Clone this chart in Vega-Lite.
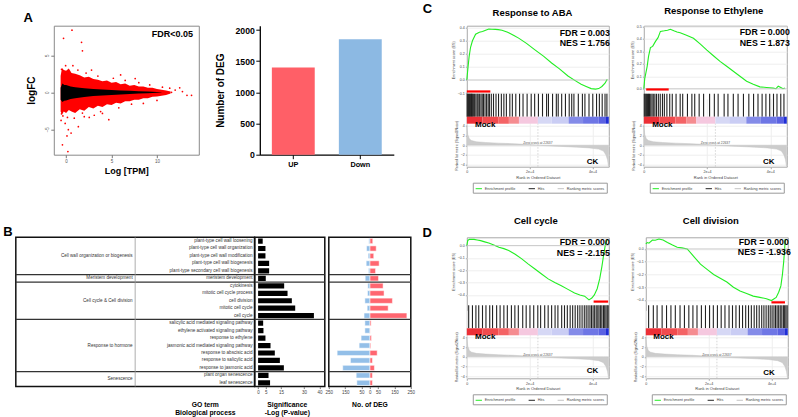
{
"$schema": "https://vega.github.io/schema/vega-lite/v6.json",
"background": "white",
"padding": {"left": 1.8, "top": 2.7, "right": 0, "bottom": 0},
"config": {"font": "Liberation Sans", "view": {"stroke": null}},
"spacing": 20.6,
"resolve": {"scale": {"color": "independent", "fill": "independent", "stroke": "independent"}, "legend": {"color": "independent", "fill": "independent", "stroke": "independent"}},
"datasets": {
"terms": [
{"order":1,"category":"Cell wall organization or biogenesis","term":"plant-type cell wall loosening","sig":3.0,"up":18,"down":6},
{"order":2,"category":"Cell wall organization or biogenesis","term":"plant-type cell wall organization","sig":4.8,"up":39,"down":20},
{"order":3,"category":"Cell wall organization or biogenesis","term":"plant-type cell wall modification","sig":4.8,"up":24,"down":10},
{"order":4,"category":"Cell wall organization or biogenesis","term":"plant-type cell wall biogenesis","sig":7.2,"up":57,"down":22},
{"order":5,"category":"Cell wall organization or biogenesis","term":"plant-type secondary cell wall biogenesis","sig":7.2,"up":35,"down":8},
{"order":6,"category":"Meristem development","term":"meristem development","sig":5.0,"up":53,"down":28},
{"order":7,"category":"Cell cycle & Cell division","term":"cytokinesis","sig":17.0,"up":81,"down":12},
{"order":8,"category":"Cell cycle & Cell division","term":"mitotic cell cycle process","sig":19.2,"up":87,"down":14},
{"order":9,"category":"Cell cycle & Cell division","term":"cell division","sig":22.0,"up":138,"down":30},
{"order":10,"category":"Cell cycle & Cell division","term":"mitotic cell cycle","sig":24.2,"up":112,"down":16},
{"order":11,"category":"Cell cycle & Cell division","term":"cell cycle","sig":36.4,"up":226,"down":35},
{"order":12,"category":"Response to hormone","term":"salicylic acid mediated signaling pathway","sig":3.3,"up":8,"down":30},
{"order":13,"category":"Response to hormone","term":"ethylene activated signaling pathway","sig":3.5,"up":2,"down":30},
{"order":14,"category":"Response to hormone","term":"response to ethylene","sig":4.8,"up":10,"down":53},
{"order":15,"category":"Response to hormone","term":"jasmonic acid mediated signaling pathway","sig":8.1,"up":6,"down":65},
{"order":16,"category":"Response to hormone","term":"response to abscisic acid","sig":10.9,"up":45,"down":199},
{"order":17,"category":"Response to hormone","term":"response to salicylic acid","sig":14.2,"up":16,"down":118},
{"order":18,"category":"Response to hormone","term":"response to jasmonic acid","sig":16.8,"up":28,"down":165},
{"order":19,"category":"Senescence","term":"plant organ senescence","sig":6.8,"up":16,"down":83},
{"order":20,"category":"Senescence","term":"leaf senescence","sig":7.8,"up":16,"down":79}
],
"ma_red": [
{"x":-0.6,"hi":2.2,"lo":-2.6},{"x":-0.45,"hi":3.3,"lo":-3.0},{"x":-0.25,"hi":3.0,"lo":-2.6},{"x":0,"hi":2.9,"lo":-2.8},{"x":0.3,"hi":3.2,"lo":-2.4},{"x":0.6,"hi":2.6,"lo":-2.6},{"x":1.0,"hi":2.5,"lo":-2.8},{"x":1.5,"hi":2.3,"lo":-2.3},{"x":2.0,"hi":2.0,"lo":-2.5},{"x":2.5,"hi":2.1,"lo":-2.0},{"x":3.0,"hi":1.8,"lo":-2.2},{"x":3.5,"hi":1.7,"lo":-1.8},{"x":4.0,"hi":1.5,"lo":-2.0},{"x":4.5,"hi":1.6,"lo":-1.6},{"x":5.0,"hi":1.3,"lo":-1.7},{"x":5.5,"hi":1.4,"lo":-1.4},{"x":6.0,"hi":1.1,"lo":-1.5},{"x":6.5,"hi":1.2,"lo":-1.2},{"x":7.0,"hi":0.9,"lo":-1.2},{"x":7.5,"hi":1.0,"lo":-1.0},{"x":8.0,"hi":0.8,"lo":-1.0},{"x":8.5,"hi":0.8,"lo":-0.8},{"x":9.0,"hi":0.6,"lo":-0.8},{"x":9.5,"hi":0.6,"lo":-0.6},{"x":10.0,"hi":0.45,"lo":-0.55},{"x":10.5,"hi":0.35,"lo":-0.45},{"x":11.0,"hi":0.25,"lo":-0.35},{"x":11.5,"hi":0.1,"lo":-0.15}
],
"ma_black": [
{"x":-0.6,"hi":0.6,"lo":-1.0},{"x":-0.4,"hi":1.2,"lo":-1.3},{"x":-0.2,"hi":1.0,"lo":-1.15},{"x":0,"hi":1.0,"lo":-1.1},{"x":0.5,"hi":0.8,"lo":-0.9},{"x":1,"hi":0.7,"lo":-0.8},{"x":2,"hi":0.55,"lo":-0.65},{"x":3,"hi":0.45,"lo":-0.5},{"x":4,"hi":0.38,"lo":-0.42},{"x":5,"hi":0.3,"lo":-0.35},{"x":6,"hi":0.25,"lo":-0.28},{"x":7,"hi":0.2,"lo":-0.22},{"x":8,"hi":0.15,"lo":-0.17},{"x":9,"hi":0.1,"lo":-0.12},{"x":10,"hi":0.05,"lo":-0.06},{"x":10.5,"hi":0.02,"lo":-0.02}
],
"ma_pts": [
{"x":0.65,"y":8.4},{"x":-0.28,"y":7.3},{"x":1.7,"y":6.75},{"x":1.8,"y":5.6},{"x":2.8,"y":3.0},{"x":-0.35,"y":-3.2},{"x":-0.55,"y":-3.8},{"x":-0.1,"y":-4.2},{"x":0.25,"y":-5.05},{"x":0.55,"y":-5.5},{"x":0.1,"y":-5.9},{"x":-0.4,"y":-7.1},{"x":0.2,"y":-8.0},{"x":1.35,"y":-4.65},{"x":2.55,"y":-3.4},{"x":4.7,"y":-3.7},{"x":4.0,"y":-2.85},{"x":0.15,"y":-3.4},{"x":6.0,"y":2.35},{"x":6.5,"y":1.6},{"x":7.6,"y":1.85},{"x":10.6,"y":0.7},{"x":11.4,"y":0.55},{"x":12.5,"y":0.6},{"x":12.8,"y":0.1},{"x":13.3,"y":-0.4},{"x":13.8,"y":-0.4},{"x":11.6,"y":0.0},{"x":10.0,"y":-1.1},{"x":8.5,"y":-1.5},{"x":1.8,"y":-2.8},{"x":0.9,"y":-3.5},{"x":3.1,"y":-3.1},{"x":0.75,"y":3.6},{"x":-0.05,"y":3.6},{"x":1.3,"y":3.0},{"x":2.2,"y":2.6},{"x":3.5,"y":2.2},{"x":5.2,"y":1.9},{"x":5.8,"y":-2.1},{"x":7.2,"y":-1.6},{"x":9.2,"y":1.0},{"x":8.0,"y":1.3},{"x":3.8,"y":-2.6},{"x":2.0,"y":-3.3},{"x":-0.5,"y":-2.9},{"x":-0.5,"y":3.1},{"x":12.0,"y":0.3}
],
"deg": [{"group":"UP","n":1400},{"group":"Down","n":1850}],
"es": [
{"set":"ABA","rank":0,"es":0},{"set":"ABA","rank":400,"es":0.1},{"set":"ABA","rank":750,"es":0.18},{"set":"ABA","rank":1200,"es":0.25},{"set":"ABA","rank":1800,"es":0.3},{"set":"ABA","rank":2800,"es":0.35},{"set":"ABA","rank":4000,"es":0.365},{"set":"ABA","rank":5000,"es":0.37},{"set":"ABA","rank":6000,"es":0.38},{"set":"ABA","rank":7000,"es":0.39},{"set":"ABA","rank":8000,"es":0.388},{"set":"ABA","rank":9100,"es":0.387},{"set":"ABA","rank":10000,"es":0.385},{"set":"ABA","rank":11200,"es":0.38},{"set":"ABA","rank":13000,"es":0.365},{"set":"ABA","rank":15000,"es":0.34},{"set":"ABA","rank":16500,"es":0.32},{"set":"ABA","rank":19000,"es":0.28},{"set":"ABA","rank":21700,"es":0.23},{"set":"ABA","rank":24500,"es":0.18},{"set":"ABA","rank":27000,"es":0.13},{"set":"ABA","rank":29500,"es":0.085},{"set":"ABA","rank":32200,"es":0.03},{"set":"ABA","rank":34500,"es":-0.005},{"set":"ABA","rank":36400,"es":-0.033},{"set":"ABA","rank":38000,"es":-0.05},{"set":"ABA","rank":39600,"es":-0.066},{"set":"ABA","rank":41000,"es":-0.07},{"set":"ABA","rank":42000,"es":-0.066},{"set":"ABA","rank":43000,"es":-0.05},{"set":"ABA","rank":44000,"es":-0.025},{"set":"ABA","rank":44700,"es":0.005},
{"set":"ETH","rank":0,"es":0},{"set":"ETH","rank":300,"es":0.08},{"set":"ETH","rank":1070,"es":0.18},{"set":"ETH","rank":1500,"es":0.26},{"set":"ETH","rank":2100,"es":0.33},{"set":"ETH","rank":2800,"es":0.34},{"set":"ETH","rank":3700,"es":0.38},{"set":"ETH","rank":4500,"es":0.41},{"set":"ETH","rank":5250,"es":0.46},{"set":"ETH","rank":6500,"es":0.465},{"set":"ETH","rank":7500,"es":0.47},{"set":"ETH","rank":8400,"es":0.477},{"set":"ETH","rank":9500,"es":0.465},{"set":"ETH","rank":10500,"es":0.455},{"set":"ETH","rank":11500,"es":0.45},{"set":"ETH","rank":13500,"es":0.43},{"set":"ETH","rank":15700,"es":0.405},{"set":"ETH","rank":17800,"es":0.36},{"set":"ETH","rank":19950,"es":0.31},{"set":"ETH","rank":22000,"es":0.265},{"set":"ETH","rank":24100,"es":0.22},{"set":"ETH","rank":26200,"es":0.18},{"set":"ETH","rank":28300,"es":0.14},{"set":"ETH","rank":30400,"es":0.1},{"set":"ETH","rank":32500,"es":0.06},{"set":"ETH","rank":34600,"es":0.035},{"set":"ETH","rank":36700,"es":0.015},{"set":"ETH","rank":38800,"es":0.01},{"set":"ETH","rank":40900,"es":0.005},{"set":"ETH","rank":41800,"es":0.0},{"set":"ETH","rank":42500,"es":0.02},{"set":"ETH","rank":43300,"es":0.01},{"set":"ETH","rank":44000,"es":0.0},{"set":"ETH","rank":44600,"es":0.005},
{"set":"CC","rank":0,"es":0.0},{"set":"CC","rank":300,"es":0.04},{"set":"CC","rank":800,"es":0.05},{"set":"CC","rank":2300,"es":0.05},{"set":"CC","rank":3300,"es":0.045},{"set":"CC","rank":4400,"es":0.04},{"set":"CC","rank":5700,"es":0.03},{"set":"CC","rank":7000,"es":0.02},{"set":"CC","rank":8600,"es":0.005},{"set":"CC","rank":10200,"es":-0.013},{"set":"CC","rank":11800,"es":-0.025},{"set":"CC","rank":13350,"es":-0.04},{"set":"CC","rank":15400,"es":-0.07},{"set":"CC","rank":17500,"es":-0.108},{"set":"CC","rank":19600,"es":-0.15},{"set":"CC","rank":21700,"es":-0.19},{"set":"CC","rank":23800,"es":-0.23},{"set":"CC","rank":25900,"es":-0.27},{"set":"CC","rank":28000,"es":-0.3},{"set":"CC","rank":30100,"es":-0.325},{"set":"CC","rank":32200,"es":-0.355},{"set":"CC","rank":34300,"es":-0.384},{"set":"CC","rank":36000,"es":-0.4},{"set":"CC","rank":37500,"es":-0.41},{"set":"CC","rank":38900,"es":-0.44},{"set":"CC","rank":39800,"es":-0.425},{"set":"CC","rank":40600,"es":-0.4},{"set":"CC","rank":41500,"es":-0.35},{"set":"CC","rank":42300,"es":-0.27},{"set":"CC","rank":43000,"es":-0.17},{"set":"CC","rank":43600,"es":-0.07},{"set":"CC","rank":44200,"es":0.02},{"set":"CC","rank":44800,"es":0.05},
{"set":"CD","rank":0,"es":0.04},{"set":"CD","rank":500,"es":0.05},{"set":"CD","rank":1000,"es":0.045},{"set":"CD","rank":2100,"es":0.07},{"set":"CD","rank":3000,"es":0.068},{"set":"CD","rank":4200,"es":0.078},{"set":"CD","rank":5500,"es":0.07},{"set":"CD","rank":6900,"es":0.05},{"set":"CD","rank":8500,"es":0.03},{"set":"CD","rank":10000,"es":0.013},{"set":"CD","rank":11500,"es":0.008},{"set":"CD","rank":13200,"es":0.0},{"set":"CD","rank":15300,"es":-0.06},{"set":"CD","rank":17400,"es":-0.12},{"set":"CD","rank":19500,"es":-0.16},{"set":"CD","rank":21600,"es":-0.2},{"set":"CD","rank":23700,"es":-0.23},{"set":"CD","rank":25800,"es":-0.26},{"set":"CD","rank":27900,"es":-0.3},{"set":"CD","rank":30000,"es":-0.33},{"set":"CD","rank":32100,"es":-0.35},{"set":"CD","rank":34200,"es":-0.37},{"set":"CD","rank":36300,"es":-0.38},{"set":"CD","rank":38400,"es":-0.39},{"set":"CD","rank":40000,"es":-0.405},{"set":"CD","rank":41500,"es":-0.38},{"set":"CD","rank":42300,"es":-0.34},{"set":"CD","rank":43000,"es":-0.29},{"set":"CD","rank":43500,"es":-0.2},{"set":"CD","rank":43900,"es":-0.1},{"set":"CD","rank":44200,"es":0.0},{"set":"CD","rank":44400,"es":0.078}
],
"hits": [
{"set":"ABA","rank":100},{"set":"ABA","rank":300},{"set":"ABA","rank":500},{"set":"ABA","rank":700},{"set":"ABA","rank":900},{"set":"ABA","rank":1100},{"set":"ABA","rank":1300},{"set":"ABA","rank":1500},{"set":"ABA","rank":1700},{"set":"ABA","rank":1900},{"set":"ABA","rank":2200},{"set":"ABA","rank":2500},{"set":"ABA","rank":2900},{"set":"ABA","rank":3300},{"set":"ABA","rank":3600},{"set":"ABA","rank":4000},{"set":"ABA","rank":4500},{"set":"ABA","rank":4900},{"set":"ABA","rank":5300},{"set":"ABA","rank":5800},{"set":"ABA","rank":6300},{"set":"ABA","rank":6800},{"set":"ABA","rank":7200},{"set":"ABA","rank":7800},{"set":"ABA","rank":8500},{"set":"ABA","rank":9300},{"set":"ABA","rank":10100},{"set":"ABA","rank":11000},{"set":"ABA","rank":11800},{"set":"ABA","rank":12600},{"set":"ABA","rank":13700},{"set":"ABA","rank":14500},{"set":"ABA","rank":15600},{"set":"ABA","rank":16800},{"set":"ABA","rank":17900},{"set":"ABA","rank":19200},{"set":"ABA","rank":20500},{"set":"ABA","rank":21600},{"set":"ABA","rank":22800},{"set":"ABA","rank":24100},{"set":"ABA","rank":25400},{"set":"ABA","rank":26000},{"set":"ABA","rank":27300},{"set":"ABA","rank":28500},{"set":"ABA","rank":29100},{"set":"ABA","rank":30200},{"set":"ABA","rank":31400},{"set":"ABA","rank":32600},{"set":"ABA","rank":33400},{"set":"ABA","rank":34100},{"set":"ABA","rank":35500},{"set":"ABA","rank":36800},{"set":"ABA","rank":37600},{"set":"ABA","rank":38900},{"set":"ABA","rank":40100},{"set":"ABA","rank":41300},{"set":"ABA","rank":42200},{"set":"ABA","rank":43100},{"set":"ABA","rank":44000},{"set":"ABA","rank":44600},
{"set":"ETH","rank":150},{"set":"ETH","rank":400},{"set":"ETH","rank":650},{"set":"ETH","rank":900},{"set":"ETH","rank":1200},{"set":"ETH","rank":1500},{"set":"ETH","rank":1800},{"set":"ETH","rank":2200},{"set":"ETH","rank":2600},{"set":"ETH","rank":3000},{"set":"ETH","rank":3500},{"set":"ETH","rank":4000},{"set":"ETH","rank":4600},{"set":"ETH","rank":5200},{"set":"ETH","rank":5900},{"set":"ETH","rank":6500},{"set":"ETH","rank":7300},{"set":"ETH","rank":8200},{"set":"ETH","rank":9000},{"set":"ETH","rank":10200},{"set":"ETH","rank":11500},{"set":"ETH","rank":12300},{"set":"ETH","rank":13800},{"set":"ETH","rank":15200},{"set":"ETH","rank":16100},{"set":"ETH","rank":17500},{"set":"ETH","rank":18900},{"set":"ETH","rank":20800},{"set":"ETH","rank":22300},{"set":"ETH","rank":23500},{"set":"ETH","rank":25400},{"set":"ETH","rank":26600},{"set":"ETH","rank":28300},{"set":"ETH","rank":29800},{"set":"ETH","rank":31500},{"set":"ETH","rank":33200},{"set":"ETH","rank":34700},{"set":"ETH","rank":36100},{"set":"ETH","rank":37400},{"set":"ETH","rank":38600},{"set":"ETH","rank":39800},{"set":"ETH","rank":41000},{"set":"ETH","rank":42100},{"set":"ETH","rank":43300},{"set":"ETH","rank":44300},
{"set":"CC","rank":600},{"set":"CC","rank":1800},{"set":"CC","rank":2900},{"set":"CC","rank":3800},{"set":"CC","rank":5000},{"set":"CC","rank":6100},{"set":"CC","rank":7300},{"set":"CC","rank":8200},{"set":"CC","rank":9500},{"set":"CC","rank":10600},{"set":"CC","rank":11800},{"set":"CC","rank":12900},{"set":"CC","rank":14200},{"set":"CC","rank":15300},{"set":"CC","rank":16400},{"set":"CC","rank":17800},{"set":"CC","rank":18900},{"set":"CC","rank":20100},{"set":"CC","rank":21300},{"set":"CC","rank":22600},{"set":"CC","rank":23500},{"set":"CC","rank":24800},{"set":"CC","rank":25900},{"set":"CC","rank":27000},{"set":"CC","rank":28100},{"set":"CC","rank":29000},{"set":"CC","rank":30200},{"set":"CC","rank":31100},{"set":"CC","rank":32000},{"set":"CC","rank":32900},{"set":"CC","rank":33700},{"set":"CC","rank":34500},{"set":"CC","rank":35300},{"set":"CC","rank":36000},{"set":"CC","rank":36700},{"set":"CC","rank":37400},{"set":"CC","rank":38000},{"set":"CC","rank":38600},{"set":"CC","rank":39200},{"set":"CC","rank":39700},{"set":"CC","rank":40200},{"set":"CC","rank":40700},{"set":"CC","rank":41200},{"set":"CC","rank":41700},{"set":"CC","rank":42100},{"set":"CC","rank":42600},{"set":"CC","rank":43000},{"set":"CC","rank":43500},{"set":"CC","rank":43900},{"set":"CC","rank":44300},{"set":"CC","rank":44700},{"set":"CC","rank":45000},
{"set":"CD","rank":900},{"set":"CD","rank":2400},{"set":"CD","rank":3600},{"set":"CD","rank":5200},{"set":"CD","rank":6600},{"set":"CD","rank":8000},{"set":"CD","rank":9400},{"set":"CD","rank":10900},{"set":"CD","rank":12300},{"set":"CD","rank":13700},{"set":"CD","rank":15000},{"set":"CD","rank":16300},{"set":"CD","rank":17700},{"set":"CD","rank":19000},{"set":"CD","rank":20300},{"set":"CD","rank":21500},{"set":"CD","rank":22800},{"set":"CD","rank":24000},{"set":"CD","rank":25200},{"set":"CD","rank":26500},{"set":"CD","rank":27600},{"set":"CD","rank":28700},{"set":"CD","rank":29800},{"set":"CD","rank":30800},{"set":"CD","rank":31800},{"set":"CD","rank":32700},{"set":"CD","rank":33600},{"set":"CD","rank":34500},{"set":"CD","rank":35300},{"set":"CD","rank":36100},{"set":"CD","rank":36900},{"set":"CD","rank":37600},{"set":"CD","rank":38300},{"set":"CD","rank":39000},{"set":"CD","rank":39600},{"set":"CD","rank":40200},{"set":"CD","rank":40800},{"set":"CD","rank":41300},{"set":"CD","rank":41800},{"set":"CD","rank":42300},{"set":"CD","rank":42800},{"set":"CD","rank":43300},{"set":"CD","rank":43800},{"set":"CD","rank":44200},{"set":"CD","rank":44600},{"set":"CD","rank":45000}
],
"cbar": [
{"start":0,"end":5000,"level":1.0},{"start":5000,"end":10000,"level":0.9},{"start":10000,"end":13400,"level":0.8},{"start":13400,"end":16600,"level":0.6},{"start":16600,"end":22637,"level":0.2},{"start":22637,"end":27000,"level":-0.2},{"start":27000,"end":32400,"level":-0.25},{"start":32400,"end":37000,"level":-0.55},{"start":37000,"end":42000,"level":-0.65},{"start":42000,"end":44300,"level":-0.75},{"start":44300,"end":45200,"level":-1.0}
],
"metric": [
{"rank":0,"metric":4.0},{"rank":300,"metric":2.2},{"rank":800,"metric":1.3},{"rank":1500,"metric":0.95},{"rank":3000,"metric":0.7},{"rank":6000,"metric":0.55},{"rank":10000,"metric":0.42},{"rank":15000,"metric":0.3},{"rank":20000,"metric":0.12},{"rank":22637,"metric":0},{"rank":25000,"metric":-0.1},{"rank":30000,"metric":-0.25},{"rank":35000,"metric":-0.4},{"rank":39000,"metric":-0.55},{"rank":42000,"metric":-0.8},{"rank":43500,"metric":-1.2},{"rank":44300,"metric":-2.0},{"rank":44800,"metric":-3.0},{"rank":45100,"metric":-4.3}
]
},
"vconcat": [
{
"spacing": 0,
"bounds": "flush",
"resolve": {"scale": {"color": "independent", "fill": "independent", "stroke": "independent"}, "legend": {"color": "independent", "fill": "independent", "stroke": "independent"}},
"hconcat": [
{"width": 37.7, "height": 1, "data": {"values": [{"a": 1}]}, "mark": {"type": "point", "opacity": 0}, "encoding": {}, "view": {"stroke": null}},
{
"width": 145, "height": 129,
"title": {"text": "A", "anchor": "start", "frame": "group", "fontSize": 13, "fontWeight": "bold", "baseline": "alphabetic", "dx": -30.3, "offset": 0, "dy": 9.1},
"view": {"stroke": "#8a8a8a"},
"layer": [
{"data": {"name": "ma_red"}, "mark": {"type": "area", "color": "#ff0000"},
 "encoding": {
  "x": {"field": "x", "type": "quantitative", "scale": {"domain": [-1.35, 14.6], "nice": false, "zero": false}, "axis": {"values": [0, 5, 10], "title": "Log [TPM]", "titleFontSize": 9, "titleFontWeight": "bold", "titlePadding": 3, "labelFontSize": 4.5, "labelColor": "#555", "tickSize": 3, "tickColor": "#777", "labelPadding": 1, "domain": false, "grid": false}},
  "y": {"field": "hi", "type": "quantitative", "scale": {"domain": [-8.43, 9.0], "nice": false, "zero": false}, "axis": {"values": [-5, 0, 5], "title": "logFC", "titleFontSize": 10, "titleFontWeight": "bold", "titlePadding": 8, "labelFontSize": 4.5, "labelColor": "#555", "labelAngle": -90, "tickSize": 3, "tickColor": "#777", "labelPadding": 1, "domain": false, "grid": false}},
  "y2": {"field": "lo"}
 }},
{"data": {"name": "ma_pts"}, "mark": {"type": "circle", "color": "#ff0000", "size": 3, "opacity": 1},
 "encoding": {"x": {"field": "x", "type": "quantitative"}, "y": {"field": "y", "type": "quantitative"}}},
{"data": {"name": "ma_black"}, "mark": {"type": "area", "color": "#000000"},
 "encoding": {"x": {"field": "x", "type": "quantitative"}, "y": {"field": "hi", "type": "quantitative"}, "y2": {"field": "lo"}}},
{"data": {"values": [{"a": 1}]}, "mark": {"type": "text", "text": "FDR<0.05", "fontSize": 9, "fontWeight": "bold", "align": "center", "baseline": "middle"},
 "encoding": {"x": {"datum": 11.7, "type": "quantitative"}, "y": {"datum": 7.9, "type": "quantitative"}}}
]
},
{"width": 61, "height": 1, "data": {"values": [{"a": 1}]}, "mark": {"type": "point", "opacity": 0}, "encoding": {}, "view": {"stroke": null}},
{
"width": 134, "height": 129,
"data": {"name": "deg"},
"mark": {"type": "bar"},
"encoding": {
 "x": {"field": "group", "type": "nominal", "sort": ["UP", "Down"], "scale": {"paddingInner": 0.36, "paddingOuter": 0.18}, "axis": {"title": null, "labelAngle": 0, "labelFontSize": 7.3, "labelFontWeight": "bold", "labelColor": "#000", "tickSize": 4, "tickColor": "#000", "domainColor": "#000", "domainWidth": 1.3, "labelPadding": 2}},
 "y": {"field": "n", "type": "quantitative", "scale": {"domain": [0, 2069], "nice": false}, "axis": {"values": [0, 500, 1000, 1500, 2000], "format": "d", "title": "Number of DEG", "titleFontSize": 10, "titleFontWeight": "bold", "titlePadding": 9, "labelFontSize": 8.7, "labelFontWeight": "bold", "labelColor": "#000", "tickSize": 4, "tickColor": "#000", "domainColor": "#000", "domainWidth": 1.3, "grid": false, "labelPadding": 1.5}},
 "color": {"field": "group", "type": "nominal", "scale": {"domain": ["UP", "Down"], "range": ["#ff5f67", "#8cb9e3"]}, "legend": null}
}
},
{"width": 72.3, "height": 1, "data": {"values": [{"a": 1}]}, "mark": {"type": "point", "opacity": 0}, "encoding": {}, "view": {"stroke": null},
 "title": {"text": "C", "anchor": "start", "frame": "group", "fontSize": 13, "fontWeight": "bold", "baseline": "alphabetic", "dx": 29, "offset": 1.2, "dy": 3.5}},
{
"width": 142, "height": 141,
"title": {"text": "Response to ABA", "frame": "group", "fontSize": 9.5, "fontWeight": "bold", "baseline": "alphabetic", "offset": 0, "dx": -5.3, "dy": -0.6},
"view": {"stroke": "#a8a8a8"},
"resolve": {"scale": {"y": "independent"}, "axis": {"y": "independent"}},
"layer": [
{"data": {"name": "es"}, "transform": [{"filter": "datum.set == 'ABA'"}], "mark": {"type": "line", "strokeWidth": 1.1},
 "encoding": {
  "x": {"field": "rank", "type": "quantitative", "scale": {"domain": [0, 45200], "nice": false, "zero": false}, "axis": {"values": [0, 5000, 10000, 15000, 20000, 25000, 30000, 35000, 40000, 45000], "format": ",", "title": "Rank in Ordered Dataset", "titleFontSize": 4, "titleFontWeight": "normal", "titleColor": "#444", "titlePadding": 2, "labelFontSize": 3.6, "labelColor": "#444", "labelFlush": false, "labelOverlap": false, "tickSize": 2, "tickColor": "#aaa", "labelPadding": 1, "domain": false, "grid": true, "gridColor": "#eeeeee"}},
  "y": {"field": "es", "type": "quantitative", "scale": {"domain": [-0.105, 0.415], "range": [68, 0], "nice": false, "zero": false}, "axis": {"orient": "left", "values": [-0.1, 0, 0.1, 0.2, 0.3, 0.4], "format": ".1f", "title": "Enrichment score (ES)", "titleFontSize": 3.8, "titleFontWeight": "normal", "titleColor": "#444", "titlePadding": 2, "labelFontSize": 3.6, "labelColor": "#444", "tickSize": 1.5, "tickColor": "#aaa", "labelPadding": 1, "domain": false, "grid": true, "gridColor": "#eeeeee"}},
  "stroke": {"datum": "Enrichment profile", "scale": {"domain": ["Enrichment profile", "Hits", "Ranking metric scores"], "range": ["#22ee22", "#222222", "#c4c4c4"]}, "legend": {"orient": "none", "legendX": 6, "legendY": 157, "direction": "horizontal", "title": null, "symbolType": "stroke", "symbolSize": 40, "symbolStrokeWidth": 1, "labelFontSize": 3.8, "labelColor": "#444", "labelOffset": 2, "strokeColor": "#999", "padding": 2, "columnPadding": 10, "fillColor": "#ffffff"}}
 }},
{"data": {"values": [{"a": 1}]}, "mark": {"type": "rule", "color": "#bbbbbb", "strokeWidth": 0.7},
 "encoding": {"y": {"datum": 0, "type": "quantitative", "scale": {"domain": [-0.105, 0.415], "range": [68, 0], "nice": false, "zero": false}, "axis": null}}},
{"data": {"values": [{"a": 1}]}, "mark": {"type": "rule", "color": "#ff0000", "strokeWidth": 2.2},
 "encoding": {"x": {"datum": 0, "type": "quantitative", "scale": {"domain": [0, 45200], "nice": false, "zero": false}}, "x2": {"datum": 7500}, "y": {"datum": -0.088, "type": "quantitative", "scale": {"domain": [-0.105, 0.415], "range": [68, 0], "nice": false, "zero": false}, "axis": null}}},
{"data": {"values": [{"a": 1}]}, "mark": {"type": "text", "text": "FDR = 0.003", "align": "right", "baseline": "middle", "fontSize": 8.8, "fontWeight": "bold", "dx": 1},
 "encoding": {"x": {"datum": 45200, "type": "quantitative", "scale": {"domain": [0, 45200], "nice": false, "zero": false}}, "y": {"datum": 0.362, "type": "quantitative", "scale": {"domain": [-0.105, 0.415], "range": [68, 0], "nice": false, "zero": false}, "axis": null}}},
{"data": {"values": [{"a": 1}]}, "mark": {"type": "text", "text": "NES = 1.756", "align": "right", "baseline": "middle", "fontSize": 8.8, "fontWeight": "bold", "dx": 1},
 "encoding": {"x": {"datum": 45200, "type": "quantitative", "scale": {"domain": [0, 45200], "nice": false, "zero": false}}, "y": {"datum": 0.279, "type": "quantitative", "scale": {"domain": [-0.105, 0.415], "range": [68, 0], "nice": false, "zero": false}, "axis": null}}},
{"data": {"name": "hits"}, "transform": [{"filter": "datum.set == 'ABA'"}], "mark": {"type": "rule", "strokeWidth": 1.1},
 "encoding": {"x": {"field": "rank", "type": "quantitative", "scale": {"domain": [0, 45200], "nice": false, "zero": false}}, "y": {"datum": 0, "type": "quantitative", "scale": {"domain": [0, 1], "range": [91, 68], "nice": false, "zero": false}, "axis": null}, "y2": {"datum": 1}, "stroke": {"datum": "Hits"}}},
{"data": {"name": "cbar"}, "mark": {"type": "rect"},
 "encoding": {"x": {"field": "start", "type": "quantitative", "scale": {"domain": [0, 45200], "nice": false, "zero": false}}, "x2": {"field": "end"}, "y": {"datum": 0, "type": "quantitative", "scale": {"domain": [0, 1], "range": [98, 91], "nice": false, "zero": false}, "axis": null}, "y2": {"datum": 1}, "fill": {"field": "level", "type": "quantitative", "scale": {"domain": [-1, -0.6, -0.2, 0.2, 0.6, 1], "range": ["#1f2ed6", "#7880e6", "#d6d8f5", "#f5c8df", "#f58c90", "#ec2f36"]}, "legend": null}}},
{"data": {"name": "metric"}, "mark": {"type": "area", "fill": "#cccccc", "strokeWidth": 0.5},
 "encoding": {"x": {"field": "rank", "type": "quantitative", "scale": {"domain": [0, 45200], "nice": false, "zero": false}}, "y": {"field": "metric", "type": "quantitative", "scale": {"domain": [-4.4, 4.4], "range": [141, 98], "nice": false, "zero": false}, "axis": {"orient": "left", "values": [-4, -2, 0, 2, 4], "title": "Ranked list metric (Signal2Noise)", "titleFontSize": 3.4, "titleFontWeight": "normal", "titleColor": "#444", "titlePadding": 2, "labelFontSize": 3.6, "labelColor": "#444", "tickSize": 1.5, "tickColor": "#aaa", "labelPadding": 1, "domain": false, "grid": true, "gridColor": "#eeeeee"}}, "y2": {"datum": 0}, "stroke": {"datum": "Ranking metric scores"}}},
{"data": {"values": [{"a": 1}]}, "mark": {"type": "rule", "color": "#bbbbbb", "strokeWidth": 0.6, "strokeDash": [1.5, 1.5]},
 "encoding": {"x": {"datum": 22637, "type": "quantitative", "scale": {"domain": [0, 45200], "nice": false, "zero": false}}, "y": {"datum": -4.4, "type": "quantitative", "scale": {"domain": [-4.4, 4.4], "range": [141, 98], "nice": false, "zero": false}, "axis": null}, "y2": {"datum": 4.4}}},
{"data": {"values": [{"a": 1}]}, "mark": {"type": "text", "text": "Zero cross at 22637", "fontSize": 3.3, "color": "#555", "align": "center", "baseline": "middle"},
 "encoding": {"x": {"datum": 22637, "type": "quantitative", "scale": {"domain": [0, 45200], "nice": false, "zero": false}}, "y": {"datum": 0.45, "type": "quantitative", "scale": {"domain": [-4.4, 4.4], "range": [141, 98], "nice": false, "zero": false}, "axis": null}}},
{"data": {"values": [{"a": 1}]}, "mark": {"type": "text", "text": "Mock", "fontSize": 8, "fontWeight": "bold", "align": "center", "baseline": "middle"},
 "encoding": {"x": {"datum": 5860, "type": "quantitative", "scale": {"domain": [0, 45200], "nice": false, "zero": false}}, "y": {"datum": 4.05, "type": "quantitative", "scale": {"domain": [-4.4, 4.4], "range": [141, 98], "nice": false, "zero": false}, "axis": null}}},
{"data": {"values": [{"a": 1}]}, "mark": {"type": "text", "text": "CK", "fontSize": 8, "fontWeight": "bold", "align": "center", "baseline": "middle"},
 "encoding": {"x": {"datum": 40000, "type": "quantitative", "scale": {"domain": [0, 45200], "nice": false, "zero": false}}, "y": {"datum": -3.5, "type": "quantitative", "scale": {"domain": [-4.4, 4.4], "range": [141, 98], "nice": false, "zero": false}, "axis": null}}}
]
},
{"width": 35, "height": 1, "data": {"values": [{"a": 1}]}, "mark": {"type": "point", "opacity": 0}, "encoding": {}, "view": {"stroke": null}},
{
"width": 143, "height": 141,
"title": {"text": "Response to Ethylene", "frame": "group", "fontSize": 9.5, "fontWeight": "bold", "baseline": "alphabetic", "offset": 0, "dx": -1.5, "dy": -0.6},
"view": {"stroke": "#a8a8a8"},
"resolve": {"scale": {"y": "independent"}, "axis": {"y": "independent"}},
"layer": [
{"data": {"name": "es"}, "transform": [{"filter": "datum.set == 'ETH'"}], "mark": {"type": "line", "strokeWidth": 1.1},
 "encoding": {
  "x": {"field": "rank", "type": "quantitative", "scale": {"domain": [0, 45200], "nice": false, "zero": false}, "axis": {"values": [0, 5000, 10000, 15000, 20000, 25000, 30000, 35000, 40000, 45000], "format": ",", "title": "Rank in Ordered Dataset", "titleFontSize": 4, "titleFontWeight": "normal", "titleColor": "#444", "titlePadding": 2, "labelFontSize": 3.6, "labelColor": "#444", "labelFlush": false, "labelOverlap": false, "tickSize": 2, "tickColor": "#aaa", "labelPadding": 1, "domain": false, "grid": true, "gridColor": "#eeeeee"}},
  "y": {"field": "es", "type": "quantitative", "scale": {"domain": [-0.04, 0.506], "range": [68, 0], "nice": false, "zero": false}, "axis": {"orient": "left", "values": [0, 0.1, 0.2, 0.3, 0.4, 0.5], "format": ".1f", "title": "Enrichment score (ES)", "titleFontSize": 3.8, "titleFontWeight": "normal", "titleColor": "#444", "titlePadding": 2, "labelFontSize": 3.6, "labelColor": "#444", "tickSize": 1.5, "tickColor": "#aaa", "labelPadding": 1, "domain": false, "grid": true, "gridColor": "#eeeeee"}},
  "stroke": {"datum": "Enrichment profile", "scale": {"domain": ["Enrichment profile", "Hits", "Ranking metric scores"], "range": ["#22ee22", "#222222", "#c4c4c4"]}, "legend": {"orient": "none", "legendX": 6, "legendY": 157, "direction": "horizontal", "title": null, "symbolType": "stroke", "symbolSize": 40, "symbolStrokeWidth": 1, "labelFontSize": 3.8, "labelColor": "#444", "labelOffset": 2, "strokeColor": "#999", "padding": 2, "columnPadding": 10, "fillColor": "#ffffff"}}
 }},
{"data": {"values": [{"a": 1}]}, "mark": {"type": "rule", "color": "#bbbbbb", "strokeWidth": 0.7},
 "encoding": {"y": {"datum": 0, "type": "quantitative", "scale": {"domain": [-0.04, 0.506], "range": [68, 0], "nice": false, "zero": false}, "axis": null}}},
{"data": {"values": [{"a": 1}]}, "mark": {"type": "rule", "color": "#ff0000", "strokeWidth": 2.2},
 "encoding": {"x": {"datum": 750, "type": "quantitative", "scale": {"domain": [0, 45200], "nice": false, "zero": false}}, "x2": {"datum": 7870}, "y": {"datum": -0.006, "type": "quantitative", "scale": {"domain": [-0.04, 0.506], "range": [68, 0], "nice": false, "zero": false}, "axis": null}}},
{"data": {"values": [{"a": 1}]}, "mark": {"type": "text", "text": "FDR = 0.000", "align": "right", "baseline": "middle", "fontSize": 8.8, "fontWeight": "bold", "dx": 3},
 "encoding": {"x": {"datum": 45200, "type": "quantitative", "scale": {"domain": [0, 45200], "nice": false, "zero": false}}, "y": {"datum": 0.454, "type": "quantitative", "scale": {"domain": [-0.04, 0.506], "range": [68, 0], "nice": false, "zero": false}, "axis": null}}},
{"data": {"values": [{"a": 1}]}, "mark": {"type": "text", "text": "NES = 1.873", "align": "right", "baseline": "middle", "fontSize": 8.8, "fontWeight": "bold", "dx": 3},
 "encoding": {"x": {"datum": 45200, "type": "quantitative", "scale": {"domain": [0, 45200], "nice": false, "zero": false}}, "y": {"datum": 0.368, "type": "quantitative", "scale": {"domain": [-0.04, 0.506], "range": [68, 0], "nice": false, "zero": false}, "axis": null}}},
{"data": {"name": "hits"}, "transform": [{"filter": "datum.set == 'ETH'"}], "mark": {"type": "rule", "strokeWidth": 1.1},
 "encoding": {"x": {"field": "rank", "type": "quantitative", "scale": {"domain": [0, 45200], "nice": false, "zero": false}}, "y": {"datum": 0, "type": "quantitative", "scale": {"domain": [0, 1], "range": [91, 68], "nice": false, "zero": false}, "axis": null}, "y2": {"datum": 1}, "stroke": {"datum": "Hits"}}},
{"data": {"name": "cbar"}, "mark": {"type": "rect"},
 "encoding": {"x": {"field": "start", "type": "quantitative", "scale": {"domain": [0, 45200], "nice": false, "zero": false}}, "x2": {"field": "end"}, "y": {"datum": 0, "type": "quantitative", "scale": {"domain": [0, 1], "range": [98, 91], "nice": false, "zero": false}, "axis": null}, "y2": {"datum": 1}, "fill": {"field": "level", "type": "quantitative", "scale": {"domain": [-1, -0.6, -0.2, 0.2, 0.6, 1], "range": ["#1f2ed6", "#7880e6", "#d6d8f5", "#f5c8df", "#f58c90", "#ec2f36"]}, "legend": null}}},
{"data": {"name": "metric"}, "mark": {"type": "area", "fill": "#cccccc", "strokeWidth": 0.5},
 "encoding": {"x": {"field": "rank", "type": "quantitative", "scale": {"domain": [0, 45200], "nice": false, "zero": false}}, "y": {"field": "metric", "type": "quantitative", "scale": {"domain": [-4.4, 4.4], "range": [141, 98], "nice": false, "zero": false}, "axis": {"orient": "left", "values": [-4, -2, 0, 2, 4], "title": "Ranked list metric (Signal2Noise)", "titleFontSize": 3.4, "titleFontWeight": "normal", "titleColor": "#444", "titlePadding": 2, "labelFontSize": 3.6, "labelColor": "#444", "tickSize": 1.5, "tickColor": "#aaa", "labelPadding": 1, "domain": false, "grid": true, "gridColor": "#eeeeee"}}, "y2": {"datum": 0}, "stroke": {"datum": "Ranking metric scores"}}},
{"data": {"values": [{"a": 1}]}, "mark": {"type": "rule", "color": "#bbbbbb", "strokeWidth": 0.6, "strokeDash": [1.5, 1.5]},
 "encoding": {"x": {"datum": 22637, "type": "quantitative", "scale": {"domain": [0, 45200], "nice": false, "zero": false}}, "y": {"datum": -4.4, "type": "quantitative", "scale": {"domain": [-4.4, 4.4], "range": [141, 98], "nice": false, "zero": false}, "axis": null}, "y2": {"datum": 4.4}}},
{"data": {"values": [{"a": 1}]}, "mark": {"type": "text", "text": "Zero cross at 22637", "fontSize": 3.3, "color": "#555", "align": "center", "baseline": "middle"},
 "encoding": {"x": {"datum": 22637, "type": "quantitative", "scale": {"domain": [0, 45200], "nice": false, "zero": false}}, "y": {"datum": 0.45, "type": "quantitative", "scale": {"domain": [-4.4, 4.4], "range": [141, 98], "nice": false, "zero": false}, "axis": null}}},
{"data": {"values": [{"a": 1}]}, "mark": {"type": "text", "text": "Mock", "fontSize": 8, "fontWeight": "bold", "align": "center", "baseline": "middle"},
 "encoding": {"x": {"datum": 5860, "type": "quantitative", "scale": {"domain": [0, 45200], "nice": false, "zero": false}}, "y": {"datum": 4.05, "type": "quantitative", "scale": {"domain": [-4.4, 4.4], "range": [141, 98], "nice": false, "zero": false}, "axis": null}}},
{"data": {"values": [{"a": 1}]}, "mark": {"type": "text", "text": "CK", "fontSize": 8, "fontWeight": "bold", "align": "center", "baseline": "middle"},
 "encoding": {"x": {"datum": 39500, "type": "quantitative", "scale": {"domain": [0, 45200], "nice": false, "zero": false}}, "y": {"datum": -3.5, "type": "quantitative", "scale": {"domain": [-4.4, 4.4], "range": [141, 98], "nice": false, "zero": false}, "axis": null}}}
]
}
]
},
{
"spacing": 0,
"bounds": "flush",
"resolve": {"scale": {"color": "independent", "fill": "independent", "stroke": "independent"}, "legend": {"color": "independent", "fill": "independent", "stroke": "independent"}},
"hconcat": [
{
"width": 238.7, "height": 149.3,
"title": {"text": "B", "anchor": "start", "frame": "group", "fontSize": 13, "fontWeight": "bold", "baseline": "alphabetic", "dx": -12.5, "offset": 0, "dy": 12},
"view": {"stroke": "#111111", "strokeWidth": 1.5},
"layer": [
{"data": {"name": "terms"}, "mark": {"type": "text", "align": "right", "baseline": "middle", "fontSize": 4.6, "color": "#333", "dx": -2},
 "encoding": {
  "x": {"datum": 1, "type": "quantitative", "scale": {"domain": [0, 1], "nice": false, "zero": false}, "axis": {"title": ["GO term", "Biological process"], "labels": false, "ticks": false, "domain": false, "grid": false, "titleFontSize": 6.8, "titleFontWeight": "bold", "titleX": 189, "titleY": 19.5, "titleBaseline": "alphabetic", "titleAlign": "center", "titleLineHeight": 8.5}},
  "y": {"field": "order", "type": "quantitative", "scale": {"domain": [0.5, 20.5], "reverse": true, "nice": false, "zero": false}, "axis": null},
  "text": {"field": "term"}
 }},
{"data": {"name": "terms"}, "transform": [{"aggregate": [{"op": "mean", "field": "order", "as": "mid"}], "groupby": ["category"]}], "mark": {"type": "text", "align": "right", "baseline": "middle", "fontSize": 4.6, "color": "#333", "dx": -2.5},
 "encoding": {"x": {"datum": 0.5, "type": "quantitative"}, "y": {"field": "mid", "type": "quantitative"}, "text": {"field": "category"}}},
{"data": {"name": "terms"}, "transform": [{"aggregate": [{"op": "max", "field": "order", "as": "last"}], "groupby": ["category"]}, {"calculate": "datum.last + 0.5", "as": "boundary"}, {"filter": "datum.boundary < 20"}], "mark": {"type": "rule", "color": "#333", "strokeWidth": 1.4},
 "encoding": {"y": {"field": "boundary", "type": "quantitative"}}},
{"data": {"values": [{"a": 1}]}, "mark": {"type": "rule", "color": "#999", "strokeWidth": 0.8},
 "encoding": {"x": {"datum": 0.5, "type": "quantitative"}}}
]
},
{
"width": 70, "height": 149.3,
"view": {"stroke": "#111111", "strokeWidth": 1.5},
"resolve": {"scale": {"y": "independent"}},
"layer": [
{"data": {"name": "terms"}, "mark": {"type": "bar", "color": "#000000"},
 "encoding": {
  "x": {"field": "sig", "type": "quantitative", "scale": {"domain": [-2.15, 43.5], "nice": false, "zero": false}, "axis": {"values": [0, 5, 15, 30, 40], "title": ["Significance", "-Log (P-value)"], "labelFontSize": 4.5, "labelColor": "#444", "tickSize": 2, "tickColor": "#777", "labelPadding": 1, "labelFlush": false, "labelOverlap": false, "domain": false, "grid": false, "titleFontSize": 6.8, "titleFontWeight": "bold", "titleX": 32, "titleY": 19.5, "titleBaseline": "alphabetic", "titleAlign": "center", "titleLineHeight": 8.5}},
  "x2": {"datum": 0},
  "y": {"field": "term", "type": "nominal", "sort": {"field": "order", "op": "min"}, "scale": {"paddingInner": 0.3, "paddingOuter": 0.15}, "axis": null}
 }},
{"data": {"name": "terms"}, "transform": [{"aggregate": [{"op": "max", "field": "order", "as": "last"}], "groupby": ["category"]}, {"calculate": "datum.last + 0.5", "as": "boundary"}, {"filter": "datum.boundary < 20"}], "mark": {"type": "rule", "color": "#333", "strokeWidth": 1.4},
 "encoding": {"y": {"field": "boundary", "type": "quantitative", "scale": {"domain": [0.5, 20.5], "reverse": true, "nice": false, "zero": false}, "axis": null}}}
]
},
{"width": 4, "height": 1, "data": {"values": [{"a": 1}]}, "mark": {"type": "point", "opacity": 0}, "encoding": {}, "view": {"stroke": null}},
{
"width": 82, "height": 149.3,
"view": {"stroke": "#111111", "strokeWidth": 1.5},
"resolve": {"scale": {"y": "independent"}},
"layer": [
{"data": {"name": "terms"}, "transform": [{"fold": ["up", "down"], "as": ["dir", "n"]}, {"calculate": "datum.dir == 'down' ? -datum.n : datum.n", "as": "signed"}], "mark": {"type": "bar", "stroke": "#ffffff", "strokeWidth": 0.5},
 "encoding": {
  "x": {"field": "signed", "type": "quantitative", "scale": {"domain": [-250, 250], "nice": false, "zero": false}, "axis": {"values": [-250, -150, -50, 0, 50, 150, 250], "labelExpr": "abs(datum.value)", "title": "No. of DEG", "labelFontSize": 4.5, "labelColor": "#444", "tickSize": 2, "tickColor": "#777", "labelPadding": 1, "labelFlush": false, "labelOverlap": false, "domain": false, "grid": false, "titleFontSize": 6.8, "titleFontWeight": "bold", "titleX": 40.7, "titleY": 19.5, "titleBaseline": "alphabetic", "titleAlign": "center"}},
  "x2": {"datum": 0},
  "y": {"field": "term", "type": "nominal", "sort": {"field": "order", "op": "min"}, "scale": {"paddingInner": 0.3, "paddingOuter": 0.15}, "axis": null},
  "color": {"field": "dir", "type": "nominal", "scale": {"domain": ["up", "down"], "range": ["#ff6670", "#93bfe8"]}, "legend": null}
 }},
{"data": {"name": "terms"}, "transform": [{"aggregate": [{"op": "max", "field": "order", "as": "last"}], "groupby": ["category"]}, {"calculate": "datum.last + 0.5", "as": "boundary"}, {"filter": "datum.boundary < 20"}], "mark": {"type": "rule", "color": "#333", "strokeWidth": 1.4},
 "encoding": {"y": {"field": "boundary", "type": "quantitative", "scale": {"domain": [0.5, 20.5], "reverse": true, "nice": false, "zero": false}, "axis": null}}}
]
},
{"width": 55.3, "height": 1, "data": {"values": [{"a": 1}]}, "mark": {"type": "point", "opacity": 0}, "encoding": {}, "view": {"stroke": null},
 "title": {"text": "D", "anchor": "start", "frame": "group", "fontSize": 13, "fontWeight": "bold", "baseline": "alphabetic", "dx": 11.8, "offset": 0, "dy": 14.7}},
{
"width": 142, "height": 141,
"title": {"text": "Cell cycle", "frame": "group", "fontSize": 9.5, "fontWeight": "bold", "baseline": "alphabetic", "offset": 3.4, "dx": -2},
"view": {"stroke": "#a8a8a8"},
"resolve": {"scale": {"y": "independent"}, "axis": {"y": "independent"}},
"layer": [
{"data": {"name": "es"}, "transform": [{"filter": "datum.set == 'CC'"}], "mark": {"type": "line", "strokeWidth": 1.1},
 "encoding": {
  "x": {"field": "rank", "type": "quantitative", "scale": {"domain": [0, 45200], "nice": false, "zero": false}, "axis": {"values": [0, 5000, 10000, 15000, 20000, 25000, 30000, 35000, 40000, 45000], "format": ",", "title": "Rank in Ordered Dataset", "titleFontSize": 4, "titleFontWeight": "normal", "titleColor": "#444", "titlePadding": 2, "labelFontSize": 3.6, "labelColor": "#444", "labelFlush": false, "labelOverlap": false, "tickSize": 2, "tickColor": "#aaa", "labelPadding": 1, "domain": false, "grid": true, "gridColor": "#eeeeee"}},
  "y": {"field": "es", "type": "quantitative", "scale": {"domain": [-0.484, 0.067], "range": [68, 0], "nice": false, "zero": false}, "axis": {"orient": "left", "values": [-0.4, -0.3, -0.2, -0.1, 0], "format": ".1f", "title": "Enrichment score (ES)", "titleFontSize": 3.8, "titleFontWeight": "normal", "titleColor": "#444", "titlePadding": 2, "labelFontSize": 3.6, "labelColor": "#444", "tickSize": 1.5, "tickColor": "#aaa", "labelPadding": 1, "domain": false, "grid": true, "gridColor": "#eeeeee"}},
  "stroke": {"datum": "Enrichment profile", "scale": {"domain": ["Enrichment profile", "Hits", "Ranking metric scores"], "range": ["#22ee22", "#222222", "#c4c4c4"]}, "legend": {"orient": "none", "legendX": 6, "legendY": 157, "direction": "horizontal", "title": null, "symbolType": "stroke", "symbolSize": 40, "symbolStrokeWidth": 1, "labelFontSize": 3.8, "labelColor": "#444", "labelOffset": 2, "strokeColor": "#999", "padding": 2, "columnPadding": 10, "fillColor": "#ffffff"}}
 }},
{"data": {"values": [{"a": 1}]}, "mark": {"type": "rule", "color": "#bbbbbb", "strokeWidth": 0.7},
 "encoding": {"y": {"datum": 0, "type": "quantitative", "scale": {"domain": [-0.484, 0.067], "range": [68, 0], "nice": false, "zero": false}, "axis": null}}},
{"data": {"values": [{"a": 1}]}, "mark": {"type": "rule", "color": "#ff0000", "strokeWidth": 2.2},
 "encoding": {"x": {"datum": 40370, "type": "quantitative", "scale": {"domain": [0, 45200], "nice": false, "zero": false}}, "x2": {"datum": 45000}, "y": {"datum": -0.454, "type": "quantitative", "scale": {"domain": [-0.484, 0.067], "range": [68, 0], "nice": false, "zero": false}, "axis": null}}},
{"data": {"values": [{"a": 1}]}, "mark": {"type": "text", "text": "FDR = 0.000", "align": "right", "baseline": "middle", "fontSize": 8.8, "fontWeight": "bold", "dx": 1},
 "encoding": {"x": {"datum": 45200, "type": "quantitative", "scale": {"domain": [0, 45200], "nice": false, "zero": false}}, "y": {"datum": 0.026, "type": "quantitative", "scale": {"domain": [-0.484, 0.067], "range": [68, 0], "nice": false, "zero": false}, "axis": null}}},
{"data": {"values": [{"a": 1}]}, "mark": {"type": "text", "text": "NES = -2.155", "align": "right", "baseline": "middle", "fontSize": 8.8, "fontWeight": "bold", "dx": 1},
 "encoding": {"x": {"datum": 45200, "type": "quantitative", "scale": {"domain": [0, 45200], "nice": false, "zero": false}}, "y": {"datum": -0.057, "type": "quantitative", "scale": {"domain": [-0.484, 0.067], "range": [68, 0], "nice": false, "zero": false}, "axis": null}}},
{"data": {"name": "hits"}, "transform": [{"filter": "datum.set == 'CC'"}], "mark": {"type": "rule", "strokeWidth": 1.1},
 "encoding": {"x": {"field": "rank", "type": "quantitative", "scale": {"domain": [0, 45200], "nice": false, "zero": false}}, "y": {"datum": 0, "type": "quantitative", "scale": {"domain": [0, 1], "range": [91, 68], "nice": false, "zero": false}, "axis": null}, "y2": {"datum": 1}, "stroke": {"datum": "Hits"}}},
{"data": {"name": "cbar"}, "mark": {"type": "rect"},
 "encoding": {"x": {"field": "start", "type": "quantitative", "scale": {"domain": [0, 45200], "nice": false, "zero": false}}, "x2": {"field": "end"}, "y": {"datum": 0, "type": "quantitative", "scale": {"domain": [0, 1], "range": [98, 91], "nice": false, "zero": false}, "axis": null}, "y2": {"datum": 1}, "fill": {"field": "level", "type": "quantitative", "scale": {"domain": [-1, -0.6, -0.2, 0.2, 0.6, 1], "range": ["#1f2ed6", "#7880e6", "#d6d8f5", "#f5c8df", "#f58c90", "#ec2f36"]}, "legend": null}}},
{"data": {"name": "metric"}, "mark": {"type": "area", "fill": "#cccccc", "strokeWidth": 0.5},
 "encoding": {"x": {"field": "rank", "type": "quantitative", "scale": {"domain": [0, 45200], "nice": false, "zero": false}}, "y": {"field": "metric", "type": "quantitative", "scale": {"domain": [-4.4, 4.4], "range": [141, 98], "nice": false, "zero": false}, "axis": {"orient": "left", "values": [-4, -2, 0, 2, 4], "title": "Ranked list metric (Signal2Noise)", "titleFontSize": 3.4, "titleFontWeight": "normal", "titleColor": "#444", "titlePadding": 2, "labelFontSize": 3.6, "labelColor": "#444", "tickSize": 1.5, "tickColor": "#aaa", "labelPadding": 1, "domain": false, "grid": true, "gridColor": "#eeeeee"}}, "y2": {"datum": 0}, "stroke": {"datum": "Ranking metric scores"}}},
{"data": {"values": [{"a": 1}]}, "mark": {"type": "rule", "color": "#bbbbbb", "strokeWidth": 0.6, "strokeDash": [1.5, 1.5]},
 "encoding": {"x": {"datum": 22637, "type": "quantitative", "scale": {"domain": [0, 45200], "nice": false, "zero": false}}, "y": {"datum": -4.4, "type": "quantitative", "scale": {"domain": [-4.4, 4.4], "range": [141, 98], "nice": false, "zero": false}, "axis": null}, "y2": {"datum": 4.4}}},
{"data": {"values": [{"a": 1}]}, "mark": {"type": "text", "text": "Zero cross at 22637", "fontSize": 3.3, "color": "#555", "align": "center", "baseline": "middle"},
 "encoding": {"x": {"datum": 22637, "type": "quantitative", "scale": {"domain": [0, 45200], "nice": false, "zero": false}}, "y": {"datum": 0.45, "type": "quantitative", "scale": {"domain": [-4.4, 4.4], "range": [141, 98], "nice": false, "zero": false}, "axis": null}}},
{"data": {"values": [{"a": 1}]}, "mark": {"type": "text", "text": "Mock", "fontSize": 8, "fontWeight": "bold", "align": "center", "baseline": "middle"},
 "encoding": {"x": {"datum": 5860, "type": "quantitative", "scale": {"domain": [0, 45200], "nice": false, "zero": false}}, "y": {"datum": 4.05, "type": "quantitative", "scale": {"domain": [-4.4, 4.4], "range": [141, 98], "nice": false, "zero": false}, "axis": null}}},
{"data": {"values": [{"a": 1}]}, "mark": {"type": "text", "text": "CK", "fontSize": 8, "fontWeight": "bold", "align": "center", "baseline": "middle"},
 "encoding": {"x": {"datum": 40000, "type": "quantitative", "scale": {"domain": [0, 45200], "nice": false, "zero": false}}, "y": {"datum": -2.9, "type": "quantitative", "scale": {"domain": [-4.4, 4.4], "range": [141, 98], "nice": false, "zero": false}, "axis": null}}}
]
},
{"width": 36.7, "height": 1, "data": {"values": [{"a": 1}]}, "mark": {"type": "point", "opacity": 0}, "encoding": {}, "view": {"stroke": null}},
{
"width": 142, "height": 141,
"title": {"text": "Cell division", "frame": "group", "fontSize": 9.5, "fontWeight": "bold", "baseline": "alphabetic", "offset": 5.1, "dx": -6, "dy": 1.6},
"view": {"stroke": "#a8a8a8"},
"resolve": {"scale": {"y": "independent"}, "axis": {"y": "independent"}},
"layer": [
{"data": {"name": "es"}, "transform": [{"filter": "datum.set == 'CD'"}], "mark": {"type": "line", "strokeWidth": 1.1},
 "encoding": {
  "x": {"field": "rank", "type": "quantitative", "scale": {"domain": [0, 45200], "nice": false, "zero": false}, "axis": {"values": [0, 5000, 10000, 15000, 20000, 25000, 30000, 35000, 40000, 45000], "format": ",", "title": "Rank in Ordered Dataset", "titleFontSize": 4, "titleFontWeight": "normal", "titleColor": "#444", "titlePadding": 2, "labelFontSize": 3.6, "labelColor": "#444", "labelFlush": false, "labelOverlap": false, "tickSize": 2, "tickColor": "#aaa", "labelPadding": 1, "domain": false, "grid": true, "gridColor": "#eeeeee"}},
  "y": {"field": "es", "type": "quantitative", "scale": {"domain": [-0.442, 0.091], "range": [68, 0], "nice": false, "zero": false}, "axis": {"orient": "left", "values": [-0.4, -0.3, -0.2, -0.1, 0], "format": ".1f", "title": "Enrichment score (ES)", "titleFontSize": 3.8, "titleFontWeight": "normal", "titleColor": "#444", "titlePadding": 2, "labelFontSize": 3.6, "labelColor": "#444", "tickSize": 1.5, "tickColor": "#aaa", "labelPadding": 1, "domain": false, "grid": true, "gridColor": "#eeeeee"}},
  "stroke": {"datum": "Enrichment profile", "scale": {"domain": ["Enrichment profile", "Hits", "Ranking metric scores"], "range": ["#22ee22", "#222222", "#c4c4c4"]}, "legend": {"orient": "none", "legendX": 6, "legendY": 157, "direction": "horizontal", "title": null, "symbolType": "stroke", "symbolSize": 40, "symbolStrokeWidth": 1, "labelFontSize": 3.8, "labelColor": "#444", "labelOffset": 2, "strokeColor": "#999", "padding": 2, "columnPadding": 10, "fillColor": "#ffffff"}}
 }},
{"data": {"values": [{"a": 1}]}, "mark": {"type": "rule", "color": "#bbbbbb", "strokeWidth": 0.7},
 "encoding": {"y": {"datum": 0, "type": "quantitative", "scale": {"domain": [-0.442, 0.091], "range": [68, 0], "nice": false, "zero": false}, "axis": null}}},
{"data": {"values": [{"a": 1}]}, "mark": {"type": "rule", "color": "#ff0000", "strokeWidth": 2.2},
 "encoding": {"x": {"datum": 40000, "type": "quantitative", "scale": {"domain": [0, 45200], "nice": false, "zero": false}}, "x2": {"datum": 44300}, "y": {"datum": -0.419, "type": "quantitative", "scale": {"domain": [-0.442, 0.091], "range": [68, 0], "nice": false, "zero": false}, "axis": null}}},
{"data": {"values": [{"a": 1}]}, "mark": {"type": "text", "text": "FDR = 0.000", "align": "right", "baseline": "middle", "fontSize": 8.8, "fontWeight": "bold", "dx": 1},
 "encoding": {"x": {"datum": 45200, "type": "quantitative", "scale": {"domain": [0, 45200], "nice": false, "zero": false}}, "y": {"datum": 0.052, "type": "quantitative", "scale": {"domain": [-0.442, 0.091], "range": [68, 0], "nice": false, "zero": false}, "axis": null}}},
{"data": {"values": [{"a": 1}]}, "mark": {"type": "text", "text": "NES = -1.936", "align": "right", "baseline": "middle", "fontSize": 8.8, "fontWeight": "bold", "dx": 3},
 "encoding": {"x": {"datum": 45200, "type": "quantitative", "scale": {"domain": [0, 45200], "nice": false, "zero": false}}, "y": {"datum": -0.027, "type": "quantitative", "scale": {"domain": [-0.442, 0.091], "range": [68, 0], "nice": false, "zero": false}, "axis": null}}},
{"data": {"name": "hits"}, "transform": [{"filter": "datum.set == 'CD'"}], "mark": {"type": "rule", "strokeWidth": 1.1},
 "encoding": {"x": {"field": "rank", "type": "quantitative", "scale": {"domain": [0, 45200], "nice": false, "zero": false}}, "y": {"datum": 0, "type": "quantitative", "scale": {"domain": [0, 1], "range": [91, 68], "nice": false, "zero": false}, "axis": null}, "y2": {"datum": 1}, "stroke": {"datum": "Hits"}}},
{"data": {"name": "cbar"}, "mark": {"type": "rect"},
 "encoding": {"x": {"field": "start", "type": "quantitative", "scale": {"domain": [0, 45200], "nice": false, "zero": false}}, "x2": {"field": "end"}, "y": {"datum": 0, "type": "quantitative", "scale": {"domain": [0, 1], "range": [98, 91], "nice": false, "zero": false}, "axis": null}, "y2": {"datum": 1}, "fill": {"field": "level", "type": "quantitative", "scale": {"domain": [-1, -0.6, -0.2, 0.2, 0.6, 1], "range": ["#1f2ed6", "#7880e6", "#d6d8f5", "#f5c8df", "#f58c90", "#ec2f36"]}, "legend": null}}},
{"data": {"name": "metric"}, "mark": {"type": "area", "fill": "#cccccc", "strokeWidth": 0.5},
 "encoding": {"x": {"field": "rank", "type": "quantitative", "scale": {"domain": [0, 45200], "nice": false, "zero": false}}, "y": {"field": "metric", "type": "quantitative", "scale": {"domain": [-4.4, 4.4], "range": [141, 98], "nice": false, "zero": false}, "axis": {"orient": "left", "values": [-4, -2, 0, 2, 4], "title": "Ranked list metric (Signal2Noise)", "titleFontSize": 3.4, "titleFontWeight": "normal", "titleColor": "#444", "titlePadding": 2, "labelFontSize": 3.6, "labelColor": "#444", "tickSize": 1.5, "tickColor": "#aaa", "labelPadding": 1, "domain": false, "grid": true, "gridColor": "#eeeeee"}}, "y2": {"datum": 0}, "stroke": {"datum": "Ranking metric scores"}}},
{"data": {"values": [{"a": 1}]}, "mark": {"type": "rule", "color": "#bbbbbb", "strokeWidth": 0.6, "strokeDash": [1.5, 1.5]},
 "encoding": {"x": {"datum": 22637, "type": "quantitative", "scale": {"domain": [0, 45200], "nice": false, "zero": false}}, "y": {"datum": -4.4, "type": "quantitative", "scale": {"domain": [-4.4, 4.4], "range": [141, 98], "nice": false, "zero": false}, "axis": null}, "y2": {"datum": 4.4}}},
{"data": {"values": [{"a": 1}]}, "mark": {"type": "text", "text": "Zero cross at 22637", "fontSize": 3.3, "color": "#555", "align": "center", "baseline": "middle"},
 "encoding": {"x": {"datum": 22637, "type": "quantitative", "scale": {"domain": [0, 45200], "nice": false, "zero": false}}, "y": {"datum": 0.45, "type": "quantitative", "scale": {"domain": [-4.4, 4.4], "range": [141, 98], "nice": false, "zero": false}, "axis": null}}},
{"data": {"values": [{"a": 1}]}, "mark": {"type": "text", "text": "Mock", "fontSize": 8, "fontWeight": "bold", "align": "center", "baseline": "middle"},
 "encoding": {"x": {"datum": 5630, "type": "quantitative", "scale": {"domain": [0, 45200], "nice": false, "zero": false}}, "y": {"datum": 4.0, "type": "quantitative", "scale": {"domain": [-4.4, 4.4], "range": [141, 98], "nice": false, "zero": false}, "axis": null}}},
{"data": {"values": [{"a": 1}]}, "mark": {"type": "text", "text": "CK", "fontSize": 8, "fontWeight": "bold", "align": "center", "baseline": "middle"},
 "encoding": {"x": {"datum": 39250, "type": "quantitative", "scale": {"domain": [0, 45200], "nice": false, "zero": false}}, "y": {"datum": -3.4, "type": "quantitative", "scale": {"domain": [-4.4, 4.4], "range": [141, 98], "nice": false, "zero": false}, "axis": null}}}
]
}
]
}
]
}
